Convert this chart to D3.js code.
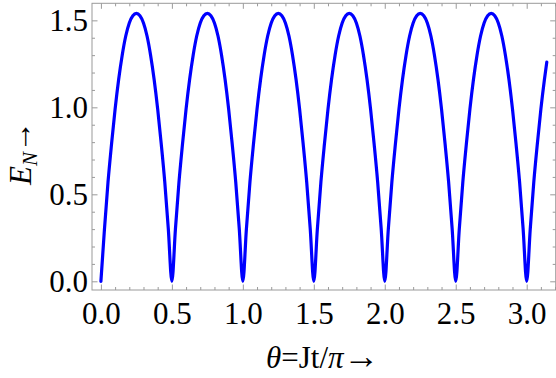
<!DOCTYPE html>
<html>
<head>
<meta charset="utf-8">
<script src="https://cdn.jsdelivr.net/npm/d3@7"></script>
<style>
  html, body { margin: 0; padding: 0; background: #fff; }
  svg { display: block; }
  text { font-family: "Liberation Serif", "Times New Roman", serif; fill: #000; }
</style>
</head>
<body>
<svg id="chart" width="556" height="378"></svg>
<script>
// theta = Jt/pi sample points (x)
const thetaValues = [
  0.000, 0.025, 0.050, 0.075, 0.100, 0.125, 0.150, 0.175, 0.200, 0.225,
  0.250, 0.275, 0.300, 0.325, 0.350, 0.375, 0.400, 0.425, 0.450, 0.475,
  0.500, 0.525, 0.550, 0.575, 0.600, 0.625, 0.650, 0.675, 0.700, 0.725,
  0.750, 0.775, 0.800, 0.825, 0.850, 0.875, 0.900, 0.925, 0.950, 0.975,
  1.000, 1.025, 1.050, 1.075, 1.100, 1.125, 1.150, 1.175, 1.200, 1.225,
  1.250, 1.275, 1.300, 1.325, 1.350, 1.375, 1.400, 1.425, 1.450, 1.475,
  1.500, 1.525, 1.550, 1.575, 1.600, 1.625, 1.650, 1.675, 1.700, 1.725,
  1.750, 1.775, 1.800, 1.825, 1.850, 1.875, 1.900, 1.925, 1.950, 1.975,
  2.000, 2.025, 2.050, 2.075, 2.100, 2.125, 2.150, 2.175, 2.200, 2.225,
  2.250, 2.275, 2.300, 2.325, 2.350, 2.375, 2.400, 2.425, 2.450, 2.475,
  2.500, 2.525, 2.550, 2.575, 2.600, 2.625, 2.650, 2.675, 2.700, 2.725,
  2.750, 2.775, 2.800, 2.825, 2.850, 2.875, 2.900, 2.925, 2.950, 2.975,
  3.000, 3.025, 3.050, 3.075, 3.100, 3.125, 3.1416
];
// E_N values (y)
const enValues = [
  0.00, 0.30, 0.57, 0.79, 0.99, 1.16, 1.30, 1.41, 1.485, 1.527,
  1.54, 1.527, 1.485, 1.41, 1.30, 1.16, 0.99, 0.79, 0.57, 0.30,
  0.00, 0.30, 0.57, 0.79, 0.99, 1.16, 1.30, 1.41, 1.485, 1.527,
  1.54, 1.527, 1.485, 1.41, 1.30, 1.16, 0.99, 0.79, 0.57, 0.30,
  0.00, 0.30, 0.57, 0.79, 0.99, 1.16, 1.30, 1.41, 1.485, 1.527,
  1.54, 1.527, 1.485, 1.41, 1.30, 1.16, 0.99, 0.79, 0.57, 0.30,
  0.00, 0.30, 0.57, 0.79, 0.99, 1.16, 1.30, 1.41, 1.485, 1.527,
  1.54, 1.527, 1.485, 1.41, 1.30, 1.16, 0.99, 0.79, 0.57, 0.30,
  0.00, 0.30, 0.57, 0.79, 0.99, 1.16, 1.30, 1.41, 1.485, 1.527,
  1.54, 1.527, 1.485, 1.41, 1.30, 1.16, 0.99, 0.79, 0.57, 0.30,
  0.00, 0.30, 0.57, 0.79, 0.99, 1.16, 1.30, 1.41, 1.485, 1.527,
  1.54, 1.527, 1.485, 1.41, 1.30, 1.16, 0.99, 0.79, 0.57, 0.30,
  0.00, 0.30, 0.57, 0.79, 0.99, 1.16, 1.26
];
const xMajorTicks = [0.0, 0.5, 1.0, 1.5, 2.0, 2.5, 3.0];
const xMinorTicks = [0.1, 0.2, 0.3, 0.4, 0.6, 0.7, 0.8, 0.9, 1.1, 1.2, 1.3, 1.4,
  1.6, 1.7, 1.8, 1.9, 2.1, 2.2, 2.3, 2.4, 2.6, 2.7, 2.8, 2.9, 3.1, 3.2];
const yMajorTicks = [0.0, 0.5, 1.0, 1.5];
const yMinorTicks = [0.1, 0.2, 0.3, 0.4, 0.6, 0.7, 0.8, 0.9, 1.1, 1.2, 1.3, 1.4];

const svg = d3.select("#chart");
const L = 92, R = 555.7, T = 3.3, B = 290;
const frameColor = "#9a9a9a";
const fontSize = 31;

const x = d3.scaleLinear().domain([-0.0628, 3.2044]).range([L, R]);
const y = d3.scaleLinear().domain([-0.05, 1.598]).range([B, T]);

const data = thetaValues.map((t, i) => ({ t, v: enValues[i] }));

svg.append("defs").append("clipPath").attr("id", "clip")
  .append("rect").attr("x", L).attr("y", T).attr("width", R - L).attr("height", B - T);

// curve
svg.append("path")
  .datum(data)
  .attr("clip-path", "url(#clip)")
  .attr("fill", "none")
  .attr("stroke", "#0000ff")
  .attr("stroke-width", 3.2)
  .attr("stroke-linejoin", "round")
  .attr("stroke-linecap", "round")
  .attr("d", d3.line().x(d => x(d.t)).y(d => y(d.v)).curve(d3.curveMonotoneX));

function styleAxis(g) {
  g.select(".domain").remove();
  g.selectAll(".tick line").attr("stroke", frameColor).attr("stroke-width", 1);
  g.selectAll(".tick text").style("font-size", fontSize + "px").attr("fill", "#000");
}
const fmt = d3.format(".1f");

// bottom
svg.append("g").attr("transform", `translate(0,${B})`)
  .call(d3.axisBottom(x).tickValues(xMajorTicks).tickFormat(fmt).tickSize(-5.5).tickPadding(12))
  .call(styleAxis);
svg.append("g").attr("transform", `translate(0,${B})`)
  .call(d3.axisBottom(x).tickValues(xMinorTicks.filter(v => x(v) < R - 0.5)).tickFormat("").tickSize(-3))
  .call(styleAxis);
// top
svg.append("g").attr("transform", `translate(0,${T})`)
  .call(d3.axisTop(x).tickValues(xMajorTicks).tickFormat("").tickSize(-5.5))
  .call(styleAxis);
svg.append("g").attr("transform", `translate(0,${T})`)
  .call(d3.axisTop(x).tickValues(xMinorTicks.filter(v => x(v) < R - 0.5)).tickFormat("").tickSize(-3))
  .call(styleAxis);
// left
svg.append("g").attr("transform", `translate(${L},0)`)
  .call(d3.axisLeft(y).tickValues(yMajorTicks).tickFormat(fmt).tickSize(-5.5).tickPadding(4))
  .call(styleAxis);
svg.append("g").attr("transform", `translate(${L},0)`)
  .call(d3.axisLeft(y).tickValues(yMinorTicks).tickFormat("").tickSize(-3))
  .call(styleAxis);
// right
svg.append("g").attr("transform", `translate(${R},0)`)
  .call(d3.axisRight(y).tickValues(yMajorTicks).tickFormat("").tickSize(-5.5))
  .call(styleAxis);
svg.append("g").attr("transform", `translate(${R},0)`)
  .call(d3.axisRight(y).tickValues(yMinorTicks).tickFormat("").tickSize(-3))
  .call(styleAxis);

// frame
svg.append("rect")
  .attr("x", L).attr("y", T).attr("width", R - L).attr("height", B - T)
  .attr("fill", "none").attr("stroke", frameColor).attr("stroke-width", 1);

// x title
const xt = svg.append("text")
  .attr("x", (L + R) / 2 - 1).attr("y", 368)
  .attr("text-anchor", "middle")
  .style("font-size", fontSize + "px");
xt.append("tspan").style("font-style", "italic").text("θ");
xt.append("tspan").text("=Jt/");
xt.append("tspan").style("font-style", "italic").text("π");
xt.append("tspan").style("font-size", "36px").text("→");

// y title
const yt = svg.append("text")
  .attr("transform", "translate(31,153) rotate(-90)")
  .attr("text-anchor", "middle")
  .style("font-size", fontSize + "px");
yt.append("tspan").style("font-style", "italic").text("E");
yt.append("tspan").style("font-style", "italic").style("font-size", "21px").attr("dy", "6").text("N");
yt.append("tspan").attr("dy", "-6").text("→");
</script>
</body>
</html>
